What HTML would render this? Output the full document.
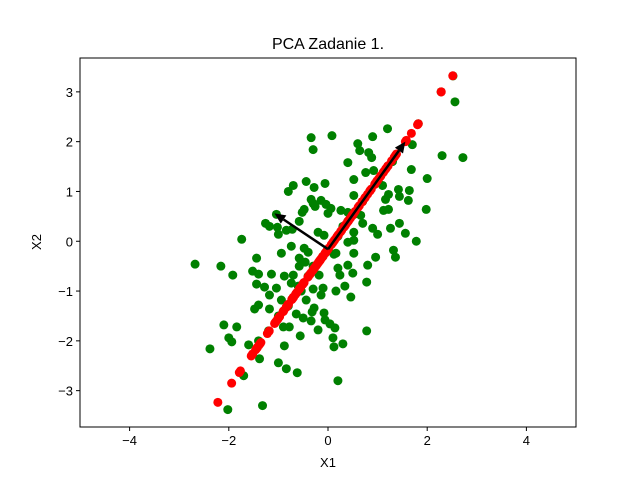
<!DOCTYPE html>
<html><head><meta charset="utf-8"><style>
body{margin:0;background:#fff}
svg text{font-family:"Liberation Sans","DejaVu Sans",sans-serif;fill:#000}
</style></head><body>
<svg id="chart" width="640" height="480" xmlns="http://www.w3.org/2000/svg">
<text x="328" y="49" font-size="16" text-anchor="middle">PCA Zadanie 1.</text>
<text x="328" y="467" font-size="13" text-anchor="middle">X1</text>
<text x="41" y="242" font-size="13" text-anchor="middle" transform="rotate(-90 41 242)">X2</text>
<g id="marks"></g>
<rect x="80" y="58" width="496" height="369" fill="none" stroke="#000" stroke-width="1"/>
<g id="ticks"></g>
</svg>
<script>
const xTicks=[-4,-2,0,2,4];
const yTicks=[-3,-2,-1,0,1,2,3];
const greenX=[-2.68,-2.16,-1.92,-1.74,-2.02,-2.38,-2.10,-1.84,-2.00,-1.94,-1.70,-1.32,-1.38,-0.88,-1.00,-0.84,-0.62,0.20,0.10,0.12,0.30,0.78,-1.60,-0.34,-0.30,0.08,0.60,1.20,0.90,2.30,2.72,2.00,1.98,1.78,2.56,2.52,2.28,1.82,0.64,0.82,0.88,0.40,1.70,1.68,0.76,0.92,0.52,-0.06,-0.28,1.10,1.42,1.64,1.22,1.44,1.16,1.62,0.52,-0.14,-0.30,-0.04,0.06,0.00,0.26,0.40,0.66,1.12,1.22,0.70,1.44,1.26,0.90,1.00,0.52,0.52,1.56,-0.20,-0.08,0.40,1.32,0.96,1.36,0.52,0.16,-0.70,-0.80,-0.44,-0.34,-0.26,-0.48,-0.52,-0.58,-1.04,-1.26,-1.18,-1.02,-1.00,-0.84,-0.72,-0.74,-0.94,-0.48,-0.40,-1.44,-0.58,-0.46,-1.52,-1.40,-1.14,-0.88,-0.70,-0.58,-0.18,0.12,0.20,0.24,0.40,0.50,0.80,-1.44,-1.28,-1.04,-1.18,-0.94,-0.74,-0.54,-0.30,-0.10,-0.14,-0.44,0.16,0.34,0.46,0.78,-1.40,-1.48,-1.18,-0.28,-0.32,-0.64,-0.50,-0.34,-0.08,-0.06,0.04,0.14,-0.20,-0.90,-0.78,-0.56,0.2,0.4,-0.3,-0.6,0.7,-1.0,1.0,-0.1,0.3,-0.4,0.55,-0.8,1.3,-1.2,-1.4];
const greenY=[-0.46,-0.50,-0.68,0.04,-3.38,-2.16,-1.68,-1.72,-1.94,-2.02,-2.70,-3.30,-2.36,-2.10,-2.44,-2.56,-2.64,-2.80,-1.94,-2.12,-2.06,-1.80,-2.08,2.08,1.84,2.12,1.96,2.26,2.10,1.72,1.68,1.26,0.64,0.00,2.80,3.32,3.00,2.36,1.82,1.78,1.68,1.58,1.94,1.44,1.38,1.42,1.24,1.16,1.08,1.12,1.04,1.02,0.94,0.90,0.84,0.82,0.92,0.82,0.76,0.74,0.66,0.56,0.62,0.58,0.52,0.62,0.64,0.36,0.36,0.26,0.26,0.14,0.18,0.02,0.16,0.18,0.12,-0.02,-0.18,-0.32,-0.32,-0.24,-0.24,1.12,1.00,1.20,0.84,0.70,0.64,0.58,0.40,0.54,0.36,0.30,0.28,0.14,0.22,0.24,-0.10,-0.24,-0.14,-0.22,-0.34,-0.34,-0.42,-0.60,-0.66,-0.66,-0.70,-0.68,-0.50,-0.68,-0.26,-0.54,-0.68,-0.48,-0.64,-0.48,-0.86,-0.92,-0.94,-1.08,-1.18,-0.84,-1.00,-0.96,-0.94,-1.08,-1.18,-1.00,-0.90,-1.12,-0.82,-1.28,-1.36,-1.36,-1.34,-1.42,-1.46,-1.54,-1.60,-1.44,-1.58,-1.66,-1.74,-1.78,-1.72,-1.72,-1.90,0.1,0.4,-0.5,-0.9,0.8,-1.5,1.2,-0.3,0.3,-0.7,0.55,-1.3,1.6,-1.8,-2.0];
const meanPt=[0,-0.16];
const pc1=[1.56,2.16];
const pc2=[-1.08,0.72];
const xMin=-5,xMax=5,yMin=-3.73,yMax=3.68;
const L=80,R=576,T=58,B=427;
const sx=v=>L+(v-xMin)/(xMax-xMin)*(R-L);
const sy=v=>B-(v-yMin)/(yMax-yMin)*(B-T);
const NS='http://www.w3.org/2000/svg';
const marks=document.getElementById('marks');
const ticks=document.getElementById('ticks');
function mk(tag,attrs,parent){const e=document.createElementNS(NS,tag);for(const k in attrs)e.setAttribute(k,attrs[k]);parent.appendChild(e);return e;}
greenX.forEach((x,i)=>{
  const c=mk('circle',{cx:sx(x),cy:sy(greenY[i]),r:4.5,fill:'#008000'},marks);
  
  
});
const n=Math.hypot(pc1[0],pc1[1]);const ux=pc1[0]/n,uy=pc1[1]/n;
greenX.forEach((x,i)=>{
  const dx=x-meanPt[0],dy=greenY[i]-meanPt[1];const t=dx*ux+dy*uy;
  const c=mk('circle',{cx:sx(meanPt[0]+t*ux),cy:sy(meanPt[1]+t*uy),r:4.5,fill:'#ff0000'},marks);
  
  
});
[pc1,pc2].forEach((v,k)=>{
  const x1=sx(meanPt[0]),y1=sy(meanPt[1]),x2=sx(meanPt[0]+v[0]),y2=sy(meanPt[1]+v[1]);
  const a=Math.atan2(y2-y1,x2-x1),h=11,w=5;
  const bx=x2-h*Math.cos(a),by=y2-h*Math.sin(a);
  const ln=mk('line',{x1:x1,y1:y1,x2:bx,y2:by,stroke:'#000','stroke-width':2.5},marks);
  
  
  const p=mk('polygon',{points:`${x2},${y2} ${bx-w*Math.sin(a)},${by+w*Math.cos(a)} ${bx+w*Math.sin(a)},${by-w*Math.cos(a)}`,fill:'#000'},marks);
  
  
});
xTicks.forEach(v=>{
  const x=sx(v);
  const l=mk('line',{x1:x,y1:B,x2:x,y2:B+4,stroke:'#000'},ticks);
  
  
  const t=mk('text',{x:x,y:B+18,'font-size':13,'text-anchor':'middle'},ticks);
  t.textContent=v<0?'\u2212'+(-v):String(v);
  
  
});
yTicks.forEach(v=>{
  const y=sy(v);
  const l=mk('line',{x1:L-4,y1:y,x2:L,y2:y,stroke:'#000'},ticks);
  
  
  const t=mk('text',{x:L-7,y:y+5,'font-size':13,'text-anchor':'end'},ticks);
  t.textContent=v<0?'\u2212'+(-v):String(v);
  
  
});
</script>
</body></html>
